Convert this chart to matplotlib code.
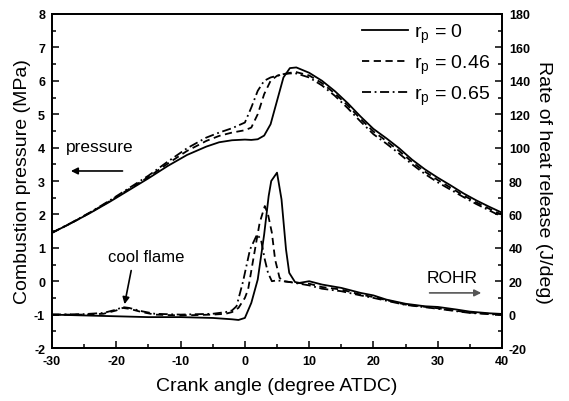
import matplotlib
matplotlib.use("Agg")
import matplotlib.pyplot as plt
from matplotlib.ticker import MultipleLocator

plt.rcParams['font.family'] = ['Liberation Sans', 'DejaVu Sans']
plt.rcParams['mathtext.fontset'] = 'custom'
plt.rcParams['mathtext.rm'] = 'Liberation Sans'
plt.rcParams['mathtext.it'] = 'Liberation Sans'
plt.rcParams['axes.unicode_minus'] = False

# ---------------- data ----------------
# cylinder pressure (MPa)
p_angle = [-30, -27, -24, -21, -18, -15, -12, -9, -6, -4, -2, 0, 1, 2, 3, 4, 5, 6, 7, 8,
           10, 12, 14, 16, 18, 20, 22, 24, 26, 28, 30, 32, 34, 36, 38, 40]
p_rp0 = [1.45, 1.74, 2.05, 2.38, 2.73, 3.08, 3.45, 3.78, 4.03, 4.16, 4.22, 4.24, 4.23, 4.25,
         4.36, 4.7, 5.4, 6.1, 6.38, 6.4, 6.24, 6.0, 5.69, 5.33, 4.93, 4.56, 4.28, 3.98,
         3.64, 3.35, 3.1, 2.87, 2.63, 2.42, 2.23, 2.05]
p_rp046 = [1.45, 1.74, 2.06, 2.4, 2.76, 3.12, 3.52, 3.9, 4.2, 4.35, 4.45, 4.52, 4.6, 5.0,
           5.6, 6.0, 6.15, 6.2, 6.24, 6.26, 6.16, 5.93, 5.62, 5.26, 4.86, 4.48, 4.2, 3.9,
           3.57, 3.28, 3.03, 2.8, 2.57, 2.36, 2.17, 1.99]
p_rp065 = [1.45, 1.75, 2.07, 2.42, 2.79, 3.16, 3.58, 3.98, 4.3, 4.45, 4.58, 4.75, 5.2, 5.7,
           6.0, 6.1, 6.15, 6.2, 6.22, 6.22, 6.1, 5.86, 5.55, 5.18, 4.78, 4.4, 4.12, 3.82,
           3.5, 3.21, 2.96, 2.74, 2.52, 2.31, 2.12, 1.93]

# rate of heat release (J/deg)
r_angle0 = [-30, -25, -20, -15, -10, -5, -2, -1, 0, 1, 2, 3, 3.7, 4.1, 5, 5.7, 6.4, 6.9,
            7.8, 8.5, 10, 12, 15, 18, 20, 22, 25, 28, 30, 33, 35, 38, 40]
r_rp0 = [0, -0.5, -1, -1.5, -1.5, -2, -2.8, -3.2, -2, 7, 21, 48, 71, 80, 85, 69, 39, 25,
         19.5, 19, 20, 18, 16, 13, 11.5, 9, 6.5, 5, 4.6, 3, 1.8, 0.8, 0.4]
r_angle046 = [-30, -25, -22, -20, -19, -18, -16, -14, -10, -5, -3, -2, -1, 0, 0.5, 1.3, 2.3,
              3.1, 3.6, 4.2, 4.7, 5.4, 6, 7, 8, 10, 12, 15, 18, 20, 25, 30, 35, 40]
r_rp046 = [0, 0, 0.5, 2.5, 4, 3.5, 1.5, 0, -0.5, 0, 0.5, 1.5, 4, 10, 15, 33, 55,
           65, 60, 49, 33, 22, 20, 19.5, 19, 18.5, 16.5, 15, 12, 10.5, 6, 3.8, 1.2, 0]
r_angle065 = [-30, -25, -22, -20, -19, -18, -16, -14, -10, -5, -3, -2, -1.3, -0.3, 0.8,
              1.9, 2.5, 3.1, 3.6, 4.2, 5, 7, 10, 12, 15, 18, 20, 25, 30, 35, 40]
r_rp065 = [0, 0.3, 1, 3, 4.5, 4, 2, 0.5, 0, 0.5, 1.5, 2.5, 5, 19.6, 39,
           48, 45, 33, 25, 20, 20.5, 19.5, 17.5, 15.5, 14, 11.5, 10, 5.8, 3.5, 1, -0.2]

labels = [r'r$_{\mathregular{p}}$ = 0', r'r$_{\mathregular{p}}$ = 0.46',
          r'r$_{\mathregular{p}}$ = 0.65']

# ---------------- plot ----------------
fig = plt.figure(figsize=(5.69, 4.02), dpi=100)
ax = fig.add_axes([0.0914, 0.1318, 0.7909, 0.8309])
ax2 = ax.twinx()

lw = 1.3
dash = (0, (4, 2.5))
dashdot = (0, (5, 2, 1, 2))
ax.plot(p_angle, p_rp0, color='black', lw=lw, ls='-', label=labels[0])
ax.plot(p_angle, p_rp046, color='black', lw=lw, ls=dash, label=labels[1])
ax.plot(p_angle, p_rp065, color='black', lw=lw, ls=dashdot, label=labels[2])

ax2.plot(r_angle0, r_rp0, color='black', lw=lw, ls='-')
ax2.plot(r_angle046, r_rp046, color='black', lw=lw, ls=dash)
ax2.plot(r_angle065, r_rp065, color='black', lw=lw, ls=dashdot)

ax.set_xlim(-30, 40)
ax.set_ylim(-2, 8)
ax2.set_ylim(-20, 180)

ax.xaxis.set_major_locator(MultipleLocator(10))
ax.xaxis.set_minor_locator(MultipleLocator(5))
ax.yaxis.set_major_locator(MultipleLocator(1))
ax.yaxis.set_minor_locator(MultipleLocator(0.5))
ax2.yaxis.set_major_locator(MultipleLocator(20))
ax2.yaxis.set_minor_locator(MultipleLocator(10))

for a in (ax, ax2):
    for s in a.spines.values():
        s.set_linewidth(1.3)
ax.tick_params(which='both', direction='in', top=False, right=False, width=1.1)
ax.tick_params(which='major', length=5, pad=5, labelsize=9)
ax.tick_params(which='minor', length=3)
ax2.tick_params(which='both', direction='in', width=1.1)
ax2.tick_params(which='major', length=5, pad=5, labelsize=9)
ax2.tick_params(which='minor', length=3)
for lab in ax.get_xticklabels() + ax.get_yticklabels() + ax2.get_yticklabels():
    lab.set_fontweight('bold')

ax.set_xlabel('Crank angle (degree ATDC)', fontsize=14, labelpad=7)
ax.set_ylabel('Combustion pressure (MPa)', fontsize=14, labelpad=2)
ax2.set_ylabel('Rate of heat release (J/deg)', fontsize=14, rotation=-90, labelpad=16)

# annotations
ax.text(-27.8, 4.02, 'pressure', fontsize=12.5, ha='left', va='center')
ax.annotate('', xy=(-27.5, 3.3), xytext=(-18.6, 3.3),
            arrowprops=dict(arrowstyle='-|>', color='black', lw=1.2, mutation_scale=10))
ax.text(28.2, 0.1, 'ROHR', fontsize=12.5, ha='left', va='center')
ax.annotate('', xy=(37.2, -0.35), xytext=(28.3, -0.35),
            arrowprops=dict(arrowstyle='-|>', color='#555555', lw=1.2, mutation_scale=10))
ax.text(-15.4, 0.75, 'cool flame', fontsize=12, ha='center', va='center')
ax.annotate('', xy=(-18.8, -0.77), xytext=(-17.6, 0.4),
            arrowprops=dict(arrowstyle='-|>', color='black', lw=1.2, mutation_scale=10))

leg = ax.legend(loc='upper right', bbox_to_anchor=(1.0, 1.012), frameon=False,
                fontsize=14, handlelength=2.4, labelspacing=0.4, handletextpad=0.3,
                borderaxespad=0.2)

fig.savefig('out.png', dpi=100)
